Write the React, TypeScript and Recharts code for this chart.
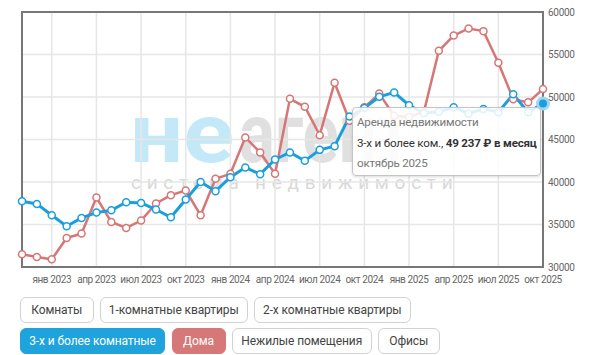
// График аренды: 3-х и более комнатные vs Дома

import { LineChart, Line, XAxis, YAxis, CartesianGrid, Tooltip, ReferenceArea } from "recharts";

const MONTHS = [
  "ноя 2022", "дек 2022",
  "янв 2023", "фев 2023", "мар 2023", "апр 2023", "май 2023", "июн 2023",
  "июл 2023", "авг 2023", "сен 2023", "окт 2023", "ноя 2023", "дек 2023",
  "янв 2024", "фев 2024", "мар 2024", "апр 2024", "май 2024", "июн 2024",
  "июл 2024", "авг 2024", "сен 2024", "окт 2024", "ноя 2024", "дек 2024",
  "янв 2025", "фев 2025", "мар 2025", "апр 2025", "май 2025", "июн 2025",
  "июл 2025", "авг 2025", "сен 2025", "окт 2025",
];

const TICK_LABELS = [
  "янв 2023", "апр 2023", "июл 2023", "окт 2023",
  "янв 2024", "апр 2024", "июл 2024", "окт 2024",
  "янв 2025", "апр 2025", "июл 2025", "окт 2025",
];

const Y_TICKS = [30000, 35000, 40000, 45000, 50000, 55000, 60000];

// 3-х и более комнатные
const FLATS_3 = [
  37740, 37420, 36090, 34800, 35770, 36400, 36680, 37620, 37540, 36760,
  35850, 37940, 40010, 38920, 40570, 41710, 40920, 42650, 43470, 42490,
  43780, 44220, 47700, 48700, 50030, 50540, 49030, 48100, 48260, 48800,
  48030, 48600, 48220, 50320, 48200, 49237,
];

// Дома
const HOUSES = [
  31500, 31180, 30900, 33420, 33930, 38170, 35300, 34600, 35470, 37470,
  38450, 39000, 36100, 40370, 40960, 45240, 43480, 40960, 49790, 48850,
  45510, 51680, 47200, 48780, 50400, 47800, 47650, 48260, 55430, 57230,
  58060, 57750, 54030, 49740, 49370, 50930,
];

const FULL_MONTH: Record<string, string> = {
  янв: "январь", фев: "февраль", мар: "март", апр: "апрель", май: "май", июн: "июнь",
  июл: "июль", авг: "август", сен: "сентябрь", окт: "октябрь", ноя: "ноябрь", дек: "декабрь",
};

const ROW_1 = ["Комнаты", "1-комнатные квартиры", "2-х комнатные квартиры"];
const ROW_2 = ["3-х и более комнатные", "Дома", "Нежилые помещения", "Офисы"];

// ширины кнопок, px
const ROW_1_W = [73.5, 147.5, 156.5];
const ROW_2_W = [145, 54, 139.5, 61.5];

const BLUE = "#1b9fdb";
const RED = "#d67676";
const FONT = "Roboto, 'Noto Sans', sans-serif";
const LAST = MONTHS.length - 1;

const chartData = MONTHS.map((month, i) => ({
  month,
  flats: FLATS_3[i],
  houses: HOUSES[i],
}));

function RentTooltip({ payload, label }: any) {
  let month = MONTHS[LAST];
  if (typeof label === "string" && MONTHS.includes(label)) month = label;
  else if (typeof label === "number" && MONTHS[label]) month = MONTHS[label];
  const item = (payload ?? []).find((p: any) => p && p.dataKey === "flats");
  const value: number = item && typeof item.value === "number" ? item.value : FLATS_3[MONTHS.indexOf(month)];
  const [short, year] = month.split(" ");
  const formatted = String(value).replace(/\B(?=(\d{3})+(?!\d))/g, " ");
  return (
    <div
      style={{
        width: 189,
        height: 69,
        boxSizing: "border-box",
        padding: "4px 4px",
        background: "rgba(255,255,255,0.86)",
        border: "1px solid #c4c4c4",
        borderRadius: 4,
        boxShadow: "0 1px 3px rgba(0,0,0,0.15)",
        fontFamily: FONT,
        fontSize: 11.6,
        letterSpacing: -0.2,
        lineHeight: "20.5px",
        whiteSpace: "nowrap",
      }}
    >
      <div style={{ color: "#777" }}>Аренда недвижимости</div>
      <div style={{ color: "#333" }}>
        3-х и более ком., <b>{formatted} ₽ в месяц</b>
      </div>
      <div style={{ color: "#777" }}>{`${FULL_MONTH[short]} ${year}`}</div>
    </div>
  );
}

function FilterButton({ text, width, active }: { text: string; width: number; active?: string }) {
  return (
    <div
      style={{
        width,
        height: 26,
        boxSizing: "border-box",
        display: "inline-flex",
        alignItems: "center",
        justifyContent: "center",
        borderRadius: 6,
        border: active ? `1px solid ${active}` : "1px solid #d2d2d2",
        background: active ?? "#fff",
        color: active ? "#fff" : "#444",
        fontSize: 12,
        letterSpacing: -0.1,
        fontFamily: FONT,
        whiteSpace: "nowrap",
      }}
    >
      {text}
    </div>
  );
}

export default function App() {
  return (
    <div style={{ position: "absolute", left: 0, top: 0, width: 600, height: 355, background: "#fff", fontFamily: FONT }}>
      {/* водяной знак */}
      <div
        style={{
          position: "absolute",
          left: 130,
          top: 92,
          fontSize: 84,
          lineHeight: "84px",
          fontWeight: 700,
          whiteSpace: "nowrap",
          pointerEvents: "none",
        }}
      >
        <span style={{ display: "inline-block", color: "#c3e8f7", transform: "scaleX(1.12)", transformOrigin: "left", width: 97 }}>
          не
        </span>
        <span style={{ display: "inline-block", color: "#e0e0e0", transform: "scaleX(0.8)", transformOrigin: "left", marginLeft: 12 }}>
          агент
        </span>
      </div>
      <div
        style={{
          position: "absolute",
          left: 131,
          top: 173,
          fontSize: 19,
          lineHeight: "19px",
          color: "#d8d8d8",
          letterSpacing: 5.7,
          whiteSpace: "nowrap",
          pointerEvents: "none",
        }}
      >
        система недвижимости
      </div>

      <div style={{ position: "absolute", left: 0, top: 0 }}>
        <LineChart width={600} height={290} data={chartData} margin={{ top: 12, right: 0, bottom: 0, left: 22 }}>
          <CartesianGrid stroke="#e6e6e6" strokeWidth={1.5} />
          <XAxis
            dataKey="month"
            ticks={TICK_LABELS}
            interval={0}
            axisLine={false}
            tickLine={false}
            tickSize={6}
            tickMargin={3}
            height={23}
            tick={{ fill: "#666", fontSize: 10, letterSpacing: -0.4, fontFamily: FONT }}
          />
          <YAxis
            orientation="right"
            domain={[30000, 60000]}
            ticks={Y_TICKS}
            axisLine={false}
            tickLine={false}
            tickSize={3}
            tickMargin={2}
            width={57}
            tick={{ fill: "#666", fontSize: 10, letterSpacing: -0.3, fontFamily: FONT, textAnchor: "start" }}
          />
          <ReferenceArea
            x1={MONTHS[0]}
            x2={MONTHS[LAST]}
            y1={30000}
            y2={60000}
            fill="none"
            stroke="#777"
            strokeWidth={2}
            ifOverflow="visible"
          />
          <Line
            dataKey="houses"
            stroke={RED}
            strokeWidth={2.5}
            dot={{ r: 3.5, fill: "#fff", stroke: RED, strokeWidth: 1.5 }}
            activeDot={false}
            isAnimationActive={false}
          />
          <Line
            dataKey="flats"
            stroke={BLUE}
            strokeWidth={3}
            dot={{ r: 3.5, fill: "#fff", stroke: BLUE, strokeWidth: 1.5 }}
            activeDot={{ r: 5.5, fill: BLUE, stroke: "#9fd6f0", strokeWidth: 3 }}
            isAnimationActive={false}
          />
          <Tooltip
            defaultIndex={LAST}
            active
            cursor={false}
            position={{ x: 352, y: 107 }}
            isAnimationActive={false}
            wrapperStyle={{ outline: "none", zIndex: 5 }}
            content={<RentTooltip />}
          />
        </LineChart>
      </div>

      <div style={{ position: "absolute", left: 20, top: 297, display: "flex", gap: 6.5 }}>
        {ROW_1.map((t, i) => (
          <FilterButton key={t} text={t} width={ROW_1_W[i]} />
        ))}
      </div>
      <div style={{ position: "absolute", left: 20, top: 328, display: "flex", gap: 6.5 }}>
        {ROW_2.map((t, i) => (
          <FilterButton
            key={t}
            text={t}
            width={ROW_2_W[i]}
            active={i === 0 ? "#1ea3dd" : i === 1 ? "#d77878" : undefined}
          />
        ))}
      </div>
    </div>
  );
}
